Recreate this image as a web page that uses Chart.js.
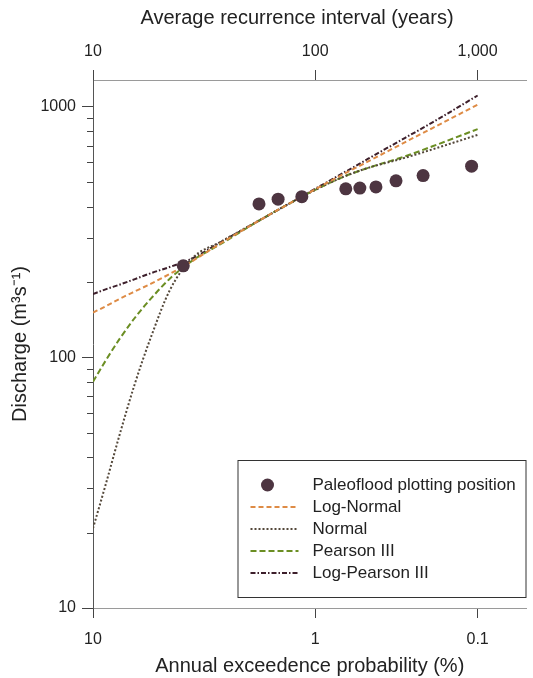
<!DOCTYPE html>
<html>
<head>
<meta charset="utf-8">
<title>Flood frequency</title>
<script src="https://cdn.jsdelivr.net/npm/chart.js@4.4.1/dist/chart.umd.min.js"></script>
<style>
  html, body { margin: 0; padding: 0; background: #fff; }
  canvas { display: block; }
</style>
</head>
<body>
<canvas id="flood-frequency" width="533" height="678"></canvas>
<script>
// Paleoflood plotting positions: annual exceedance probability (%) and discharge (m3/s)
const paleoProb = [4.4, 1.96, 1.57, 1.18, 0.675, 0.56, 0.45, 0.34, 0.23, 0.11];
const paleoQ = [232, 410, 428, 438, 471, 474, 479, 507, 532, 580];

// Fitted distributions at these probabilities (%)
const curveProb = [10, 9, 8, 7, 6, 5, 4, 3, 2, 1, 0.7, 0.5, 0.3, 0.2, 0.1];
const logNormalQ = [151, 160, 171, 183, 197, 216, 243, 285, 348, 469, 538, 606, 722, 823, 1020];
const normalQ = [20.8, 31, 48.6, 77.3, 121, 187, 250, 289, 349, 466, 525, 571, 626, 677, 773];
const pearson3Q = [80, 97, 118, 143, 172, 207, 244, 283, 348, 466, 525, 571, 634, 696, 815];
const logPearson3Q = [179, 187, 195, 205, 217, 230, 249, 288, 348, 471, 544, 621, 751, 867, 1110];

// Axis ticks
const probTicks = [10, 1, 0.1];
const probRange = [10, 0.045];
const intervalTicks = [10, 100, 1000];
const dischargeTicks = [10, 100, 1000];
const dischargeRange = [10, 1280];

// Inverse standard normal CDF (Acklam), used for the probability-paper axis
const normInv = (p) => {
  const a = [-39.69683028665376, 220.9460984245205, -275.9285104469687, 138.3577518672690, -30.66479806614716, 2.506628277459239];
  const b = [-54.47609879822406, 161.5858368580409, -155.6989798598866, 66.80131188771972, -13.28068155288572];
  const c = [-0.007784894002430293, -0.3223964580411365, -2.400758277161838, -2.549732539343734, 4.374664141464968, 2.938163982698783];
  const d = [0.007784695709041462, 0.3224671290700398, 2.445134137142996, 3.754408661907416];
  const plow = 0.02425;
  let q, r;
  if (p < plow) {
    q = Math.sqrt(-2 * Math.log(p));
    return (((((c[0] * q + c[1]) * q + c[2]) * q + c[3]) * q + c[4]) * q + c[5]) /
      ((((d[0] * q + d[1]) * q + d[2]) * q + d[3]) * q + 1);
  }
  if (p > 1 - plow) {
    q = Math.sqrt(-2 * Math.log(1 - p));
    return -(((((c[0] * q + c[1]) * q + c[2]) * q + c[3]) * q + c[4]) * q + c[5]) /
      ((((d[0] * q + d[1]) * q + d[2]) * q + d[3]) * q + 1);
  }
  q = p - 0.5;
  r = q * q;
  return (((((a[0] * r + a[1]) * r + a[2]) * r + a[3]) * r + a[4]) * r + a[5]) * q /
    (((((b[0] * r + b[1]) * r + b[2]) * r + b[3]) * r + b[4]) * r + 1);
};
// exceedance probability in % -> standard normal deviate (grows to the right)
const exceedZ = (pct) => -normInv(pct / 100);

const toPoints = (probs, values) => probs.map((p, i) => ({ x: exceedZ(p), y: values[i] }));

const FONT = 'Liberation Sans, Arial, Helvetica, sans-serif';
const TEXT = '#222';

const curve = (label, values, color, dash) => ({
  label,
  data: toPoints(curveProb, values),
  showLine: true,
  borderColor: color,
  backgroundColor: color,
  borderWidth: 2,
  borderDash: dash,
  pointRadius: 0,
  pointHoverRadius: 0,
  cubicInterpolationMode: 'monotone',
});

// fixed plot box, the axes keep no extra side padding
const fixHeight = (h) => (s) => {
  s.height = h;
  s.paddingLeft = 0;
  s.paddingRight = 0;
};

// short minor ticks on the log axis (2..9 per decade)
const minorTicks = {
  id: 'minorTicks',
  afterDraw(chart) {
    const { ctx, chartArea } = chart;
    const y = chart.scales.y;
    ctx.save();
    ctx.strokeStyle = '#444';
    ctx.lineWidth = 1;
    ctx.beginPath();
    for (let dec = 10; dec < y.max; dec *= 10) {
      for (let k = 2; k <= 9; k++) {
        const v = dec * k;
        if (v > y.max) break;
        const py = Math.round(y.getPixelForValue(v)) + 0.5;
        ctx.moveTo(chartArea.left - 6, py);
        ctx.lineTo(chartArea.left, py);
      }
    }
    ctx.stroke();
    ctx.restore();
  },
};

// title of the top axis, sitting a little left of the plot centre
const topTitle = {
  id: 'topTitle',
  afterDraw(chart, args, opts) {
    const { ctx, chartArea } = chart;
    ctx.save();
    ctx.font = '20px ' + FONT;
    ctx.fillStyle = TEXT;
    ctx.textAlign = 'center';
    ctx.textBaseline = 'middle';
    ctx.fillText(opts.text, chartArea.left + 204, 18);
    ctx.restore();
  },
};

// boxed legend in the lower right corner of the plot
const boxLegend = {
  id: 'boxLegend',
  afterDraw(chart) {
    const { ctx, chartArea } = chart;
    const right = chartArea.right - 1;
    const bottom = chartArea.bottom - 11;
    const w = 288, h = 137;
    const left = right - w, top = bottom - h;
    ctx.save();
    ctx.fillStyle = '#fff';
    ctx.fillRect(left, top, w, h);
    ctx.strokeStyle = '#333';
    ctx.lineWidth = 1;
    ctx.strokeRect(left + 0.5, top + 0.5, w, h);
    ctx.font = '17px ' + FONT;
    ctx.textBaseline = 'middle';
    chart.data.datasets.forEach((ds, i) => {
      const y = top + 25 + i * 22;
      if (ds.showLine) {
        ctx.strokeStyle = ds.borderColor;
        ctx.lineWidth = 2;
        ctx.setLineDash(ds.borderDash || []);
        ctx.beginPath();
        ctx.moveTo(left + 13, y);
        ctx.lineTo(left + 61, y);
        ctx.stroke();
        ctx.setLineDash([]);
      } else {
        ctx.fillStyle = ds.backgroundColor;
        ctx.beginPath();
        ctx.arc(left + 30, y, 6.5, 0, Math.PI * 2);
        ctx.fill();
      }
      ctx.fillStyle = TEXT;
      ctx.fillText(ds.label, left + 75, y);
    });
    ctx.restore();
  },
};

const ctx = document.getElementById('flood-frequency');

new Chart(ctx, {
  type: 'scatter',
  data: {
    datasets: [
      {
        label: 'Paleoflood plotting position',
        data: toPoints(paleoProb, paleoQ),
        showLine: false,
        backgroundColor: '#4d3541',
        borderColor: '#4d3541',
        pointRadius: 6.5,
        pointBorderWidth: 0,
      },
      curve('Log-Normal', logNormalQ, '#de8b45', [5, 3]),
      curve('Normal', normalQ, '#54483a', [2, 2]),
      curve('Pearson III', pearson3Q, '#6b8e23', [6, 3]),
      curve('Log-Pearson III', logPearson3Q, '#3d1f2b', [5, 2, 1.5, 2]),
    ],
  },
  options: {
    responsive: false,
    animation: false,
    layout: { padding: { right: 2 } },
    plugins: {
      legend: { display: false },
      tooltip: { enabled: false },
      topTitle: { text: 'Average recurrence interval (years)' },
    },
    scales: {
      x: {
        type: 'linear',
        position: 'bottom',
        min: exceedZ(probRange[0]),
        max: exceedZ(probRange[1]),
        afterBuildTicks: (s) => { s.ticks = probTicks.map((p) => ({ value: exceedZ(p) })); },
        afterFit: fixHeight(70),
        ticks: {
          autoSkip: false,
          maxRotation: 0,
          padding: 12,
          color: TEXT,
          font: { family: FONT, size: 16 },
          callback: (v, i) => String(probTicks[i]),
        },
        grid: { drawOnChartArea: false, tickLength: 10, tickColor: '#444' },
        border: { color: '#9a9a9a' },
        title: {
          display: true,
          text: 'Annual exceedence probability (%)',
          color: TEXT,
          font: { family: FONT, size: 20 },
          padding: { top: 0, bottom: 0 },
        },
      },
      xTop: {
        type: 'linear',
        position: 'top',
        min: exceedZ(probRange[0]),
        max: exceedZ(probRange[1]),
        afterBuildTicks: (s) => { s.ticks = intervalTicks.map((t) => ({ value: exceedZ(100 / t) })); },
        afterFit: fixHeight(80),
        ticks: {
          autoSkip: false,
          maxRotation: 0,
          padding: 9,
          color: TEXT,
          font: { family: FONT, size: 16 },
          callback: (v, i) => intervalTicks[i].toLocaleString('en-US'),
        },
        grid: { drawOnChartArea: false, tickLength: 10, tickColor: '#444' },
        border: { color: '#9a9a9a' },
      },
      y: {
        type: 'logarithmic',
        min: dischargeRange[0],
        max: dischargeRange[1],
        afterBuildTicks: (s) => { s.ticks = dischargeTicks.map((v) => ({ value: v })); },
        afterFit: (s) => { s.width = 93; },
        ticks: {
          autoSkip: false,
          padding: 6,
          color: TEXT,
          font: { family: FONT, size: 16 },
          callback: (v) => String(v),
        },
        grid: { drawOnChartArea: false, tickLength: 11, tickColor: '#444' },
        border: { color: '#555' },
        title: {
          display: true,
          text: 'Discharge (m³s⁻¹)',
          color: TEXT,
          font: { family: FONT, size: 20 },
          padding: { top: 8, bottom: 0 },
        },
      },
    },
  },
  plugins: [minorTicks, topTitle, boxLegend],
});
</script>
</body>
</html>
